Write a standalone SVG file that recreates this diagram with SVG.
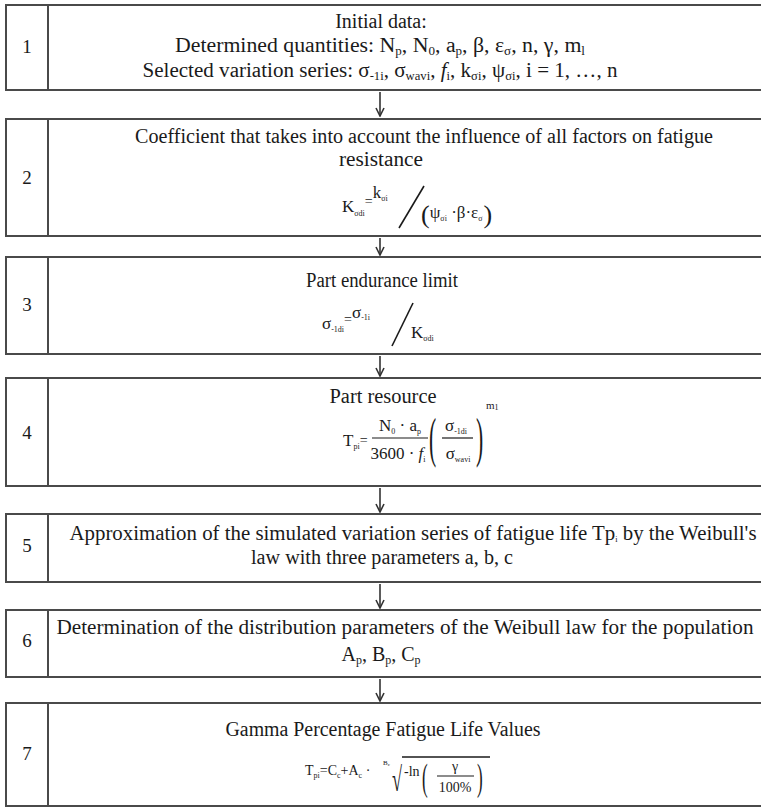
<svg xmlns="http://www.w3.org/2000/svg" width="761" height="808" viewBox="0 0 761 808">
<defs>
<style>
.box{fill:#fff;stroke:#4a4a4a;stroke-width:2}
.div{stroke:#4a4a4a;stroke-width:2}
text{font-family:'Liberation Serif','Times New Roman','DejaVu Serif',serif;fill:#1a1a1a}
.t{font-size:20px;text-anchor:middle}
.n{font-size:19px;text-anchor:middle}
.f{font-size:17px}
.s{font-size:12px}
.ss{font-size:8px}
.fs{font-size:14px}
.m{text-anchor:middle}
.bar{stroke:#1a1a1a;stroke-width:1.2}
.conn{stroke:#333;stroke-width:1.6;fill:none}
</style>
<marker id="ah" viewBox="0 0 10 10" refX="9" refY="5" markerWidth="10" markerHeight="10" markerUnits="userSpaceOnUse" orient="auto">
<path d="M1,1 L9,5 L1,9" fill="none" stroke="#333" stroke-width="1.6"/>
</marker>
</defs>
<rect width="761" height="808" fill="#fff"/>

<g id="connectors">
<line class="conn" x1="380" y1="92" x2="380" y2="116" marker-end="url(#ah)"/>
<line class="conn" x1="380" y1="238" x2="380" y2="255" marker-end="url(#ah)"/>
<line class="conn" x1="380" y1="356" x2="380" y2="376" marker-end="url(#ah)"/>
<line class="conn" x1="380" y1="488" x2="380" y2="512" marker-end="url(#ah)"/>
<line class="conn" x1="380" y1="584" x2="380" y2="608" marker-end="url(#ah)"/>
<line class="conn" x1="380" y1="679" x2="380" y2="701" marker-end="url(#ah)"/>
</g>

<g id="node1">
<rect class="box" x="6" y="5" width="770" height="85"/>
<line class="div" x1="48" y1="5" x2="48" y2="90"/>
<text class="n" x="27" y="53">1</text>
<text class="t" x="381" y="28">Initial data:</text>
<text class="t" x="380" y="52" textLength="410" lengthAdjust="spacingAndGlyphs">Determined quantities: N<tspan class="s" dy="3">p</tspan><tspan dy="-3">, N</tspan><tspan class="s" dy="3">0</tspan><tspan dy="-3">, a</tspan><tspan class="s" dy="3">p</tspan><tspan dy="-3">, β, ε</tspan><tspan class="s" dy="3">σ</tspan><tspan dy="-3">, n, γ, m</tspan><tspan class="s" dy="3">l</tspan></text>
<text class="t" x="380" y="77" textLength="475" lengthAdjust="spacingAndGlyphs">Selected variation series: σ<tspan class="s" dy="3">-1i</tspan><tspan dy="-3">, σ</tspan><tspan class="s" dy="3">wavi</tspan><tspan dy="-3">, </tspan><tspan font-style="italic">f</tspan><tspan class="s" dy="3">i</tspan><tspan dy="-3">, k</tspan><tspan class="s" dy="3">σi</tspan><tspan dy="-3">, ψ</tspan><tspan class="s" dy="3">σi</tspan><tspan dy="-3">, i = 1, …, n</tspan></text>
</g>

<g id="node2">
<rect class="box" x="6" y="119" width="770" height="117"/>
<line class="div" x1="48" y1="119" x2="48" y2="236"/>
<text class="n" x="27" y="184">2</text>
<text class="t" x="424" y="143" textLength="578" lengthAdjust="spacingAndGlyphs">Coefficient that takes into account the influence of all factors on fatigue</text>
<text class="t" x="381" y="166" textLength="84" lengthAdjust="spacingAndGlyphs">resistance</text>
<text class="f" x="342" y="212">K<tspan class="ss" dy="4">σdi</tspan><tspan class="fs" dy="-10">=</tspan><tspan dy="-8">k</tspan><tspan class="ss" dy="3">σi</tspan></text>
<line class="bar" x1="399" y1="228" x2="424" y2="186" style="stroke-width:1.6"/>
<text x="421" y="223"><tspan style="font-size:26px">(</tspan><tspan class="f" dy="-5">ψ</tspan><tspan class="ss" dy="3">σi</tspan><tspan class="f" dy="-3"> ·β·ε</tspan><tspan class="ss" dy="3">σ</tspan><tspan style="font-size:26px" dx="1" dy="2">)</tspan></text>
</g>

<g id="node3">
<rect class="box" x="6" y="257" width="770" height="97"/>
<line class="div" x1="48" y1="257" x2="48" y2="354"/>
<text class="n" x="27" y="311">3</text>
<text class="t" x="382" y="287" textLength="152" lengthAdjust="spacingAndGlyphs">Part endurance limit</text>
<text class="f" x="322" y="329">σ<tspan class="ss" dy="3">-1di</tspan><tspan class="fs" dy="-8">=</tspan><tspan dy="-6">σ</tspan><tspan class="ss" dy="2">-1i</tspan></text>
<line class="bar" x1="392" y1="346" x2="413" y2="303" style="stroke-width:1.6"/>
<text class="f" x="411" y="338">K<tspan class="ss" dy="3">σdi</tspan></text>
</g>

<g id="node4">
<rect class="box" x="6" y="378" width="770" height="108"/>
<line class="div" x1="48" y1="378" x2="48" y2="486"/>
<text class="n" x="27" y="439">4</text>
<text class="t" x="383" y="403" textLength="107" lengthAdjust="spacingAndGlyphs">Part resource</text>
<text class="f" x="343" y="446">T<tspan class="ss" dy="3">pi</tspan><tspan class="fs" dy="-4">=</tspan></text>
<text class="f m" x="400" y="431">N<tspan class="ss" dy="3">0</tspan><tspan dy="-3"> · a</tspan><tspan class="ss" dy="3">p</tspan></text>
<line class="bar" x1="372" y1="438" x2="428" y2="438"/>
<text class="f m" x="398" y="459">3600 · <tspan font-style="italic">f</tspan><tspan class="ss" dy="3">i</tspan></text>
<text x="429" y="456" style="font-size:54px" transform="translate(429 456) scale(0.4 1) translate(-429 -456)">(</text>
<text class="f m" x="456" y="431">σ<tspan class="ss" dy="3">-1di</tspan></text>
<line class="bar" x1="442" y1="438" x2="473" y2="438"/>
<text class="f m" x="458" y="459">σ<tspan class="ss" dy="3">wavi</tspan></text>
<text x="476" y="456" style="font-size:54px" transform="translate(476 456) scale(0.4 1) translate(-476 -456)">)</text>
<text x="486" y="409" style="font-size:11px">m<tspan style="font-size:8px" dy="1">1</tspan></text>
</g>

<g id="node5">
<rect class="box" x="6" y="514" width="770" height="68"/>
<line class="div" x1="48" y1="514" x2="48" y2="582"/>
<text class="n" x="27" y="552">5</text>
<text class="t" x="413" y="540" textLength="687" lengthAdjust="spacingAndGlyphs">Approximation of the simulated variation series of fatigue life Tp<tspan class="ss" dy="2">i</tspan><tspan dy="-2"> by the Weibull's</tspan></text>
<text class="t" x="382" y="564" textLength="262" lengthAdjust="spacingAndGlyphs">law with three parameters a, b, c</text>
</g>

<g id="node6">
<rect class="box" x="6" y="610" width="770" height="67"/>
<line class="div" x1="48" y1="610" x2="48" y2="677"/>
<text class="n" x="27" y="647">6</text>
<text class="t" x="405" y="634" textLength="697" lengthAdjust="spacingAndGlyphs">Determination of the distribution parameters of the Weibull law for the population</text>
<text class="t" x="381" y="661">A<tspan class="s" dy="3">p</tspan><tspan dy="-3">, B</tspan><tspan class="s" dy="3">p</tspan><tspan dy="-3">, C</tspan><tspan class="s" dy="3">p</tspan></text>
</g>

<g id="node7">
<rect class="box" x="6" y="703" width="770" height="103"/>
<line class="div" x1="48" y1="703" x2="48" y2="806"/>
<text class="n" x="27" y="760">7</text>
<text class="t" x="383" y="736" textLength="315" lengthAdjust="spacingAndGlyphs">Gamma Percentage Fatigue Life Values</text>
<text class="fs" x="305" y="775">T<tspan class="ss" dy="3">pi</tspan><tspan dy="-3">=C</tspan><tspan class="ss" dy="3">c</tspan><tspan dy="-3">+A</tspan><tspan class="ss" dy="3">c</tspan><tspan dy="-3"> ·</tspan></text>
<text x="383" y="765" style="font-size:7px">B<tspan style="font-size:5px" dy="1">c</tspan></text>
<text x="392" y="791" style="font-size:26px" transform="translate(392 791) scale(0.7 1.3) translate(-392 -791)">√</text>
<line class="bar" x1="402" y1="757" x2="490" y2="757" style="stroke-width:1.3"/>
<text class="fs" x="404" y="776">-ln</text>
<text x="422" y="790" style="font-size:38px" transform="translate(422 790) scale(0.45 1) translate(-422 -790)">(</text>
<text class="fs m" x="455" y="771">γ</text>
<line class="bar" x1="437" y1="776" x2="474" y2="776"/>
<text class="fs m" x="455" y="792">100%</text>
<text x="477" y="790" style="font-size:38px" transform="translate(477 790) scale(0.45 1) translate(-477 -790)">)</text>
</g>
</svg>
